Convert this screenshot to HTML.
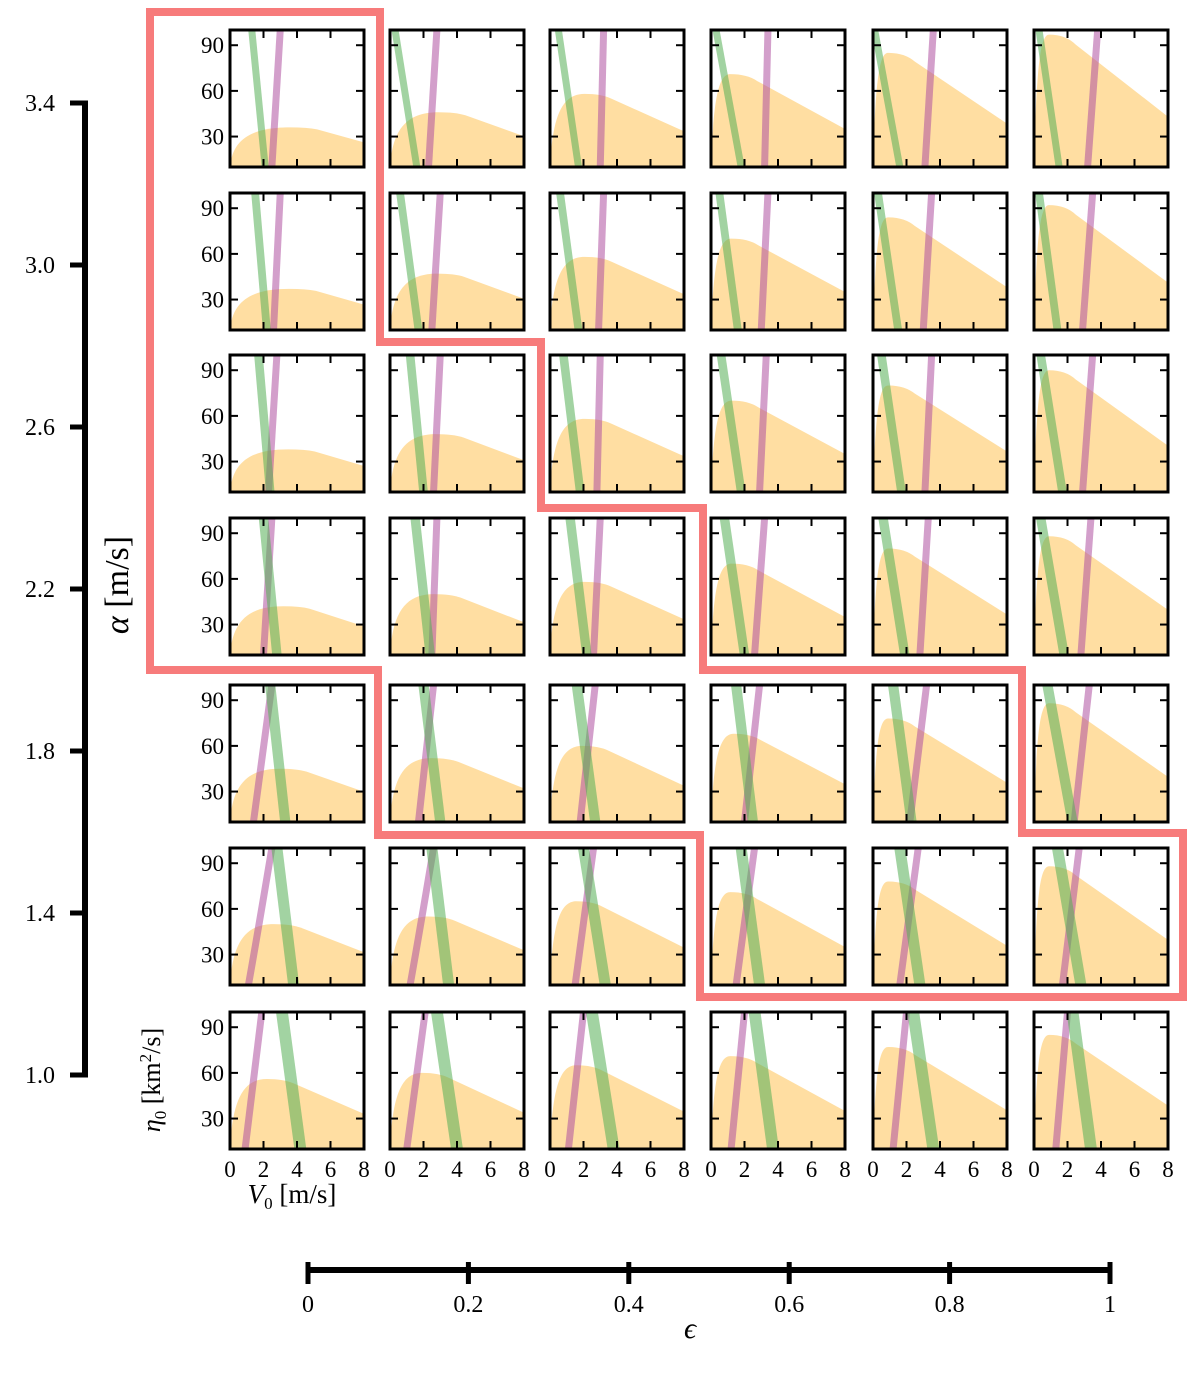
<!DOCTYPE html>
<html><head><meta charset="utf-8"><style>
html,body{margin:0;padding:0;background:#fff;}
svg text{font-family:"Liberation Serif",serif;fill:#000;}
</style></head><body>
<svg id="chart" width="1200" height="1375" viewBox="0 0 1200 1375" xmlns="http://www.w3.org/2000/svg">
<g id="panels"></g>
<path d="M150,12 L380,12 L380,342 L541,342 L541,508 L703,508 L703,670 L1022,670 L1022,833 L1183,833 L1183,997 L700,997 L700,835 L378,835 L378,670 L150,670 Z" fill="none" stroke="#f77b7b" stroke-width="8" stroke-linejoin="miter"/>
<g id="alpha-axis"></g>
<g id="eps-axis"></g>
<text x="0" y="0" font-size="34" transform="translate(128,585) rotate(-90)" text-anchor="middle"><tspan font-style="italic">α</tspan> [m/s]</text>
<text x="690" y="1338" font-size="30" font-style="italic" text-anchor="middle">ϵ</text>
<text font-size="26" transform="translate(160,1080) rotate(-90)" text-anchor="middle"><tspan font-style="italic">η</tspan><tspan font-size="17" dy="6">0</tspan><tspan dy="-6"> [km</tspan><tspan font-size="17" dy="-9">2</tspan><tspan dy="9">/s]</tspan></text>
<text x="292" y="1203" font-size="27" text-anchor="middle"><tspan font-style="italic">V</tspan><tspan font-size="17" dy="6">0</tspan><tspan dy="-6"> [m/s]</tspan></text>
</svg>
<script>
const alphaTicks=[1.0,1.4,1.8,2.2,2.6,3.0,3.4];
const epsTicks=[0,0.2,0.4,0.6,0.8,1];
const epsLabels=["0","0.2","0.4","0.6","0.8","1"];
const rowAlpha=[3.4,3.0,2.6,2.2,1.8,1.4,1.0];
const xTicks=[0,2,4,6,8];
const yTicks=[30,60,90];
// orange region peak height (eta) per row/col
const orangePeak=[
[36,46,58,71,85,97],
[37,47,58,70,84,92],
[38,48,58,70,80,90],
[42,50,58,70,80,88],
[45,52,60,68,78,88],
[50,55,65,71,78,88],
[56,60,65,71,77,85]];
// green band V0 at top (eta=100) and bottom (eta=10)
const greenTop=[
[1.3,0.3,0.5,0.3,0.1,0.3],
[1.5,0.6,0.6,0.5,0.3,0.3],
[1.7,1.2,0.8,0.6,0.5,0.4],
[2.0,1.5,1.2,0.8,0.6,0.4],
[2.4,2.0,1.6,1.5,1.2,0.8],
[2.8,2.5,2.0,1.8,1.6,1.4],
[3.1,2.8,2.5,2.6,2.4,2.3]];
const greenBot=[
[2.1,1.6,1.7,1.8,1.6,1.5],
[2.2,1.7,1.7,1.6,1.5,1.4],
[2.4,2.0,1.8,1.8,1.7,1.7],
[2.8,2.4,2.2,2.0,1.9,1.8],
[3.3,3.0,2.7,2.5,2.3,2.3],
[3.8,3.5,3.3,2.9,2.8,2.8],
[4.2,4.0,3.8,3.7,3.6,3.4]];
const purpleTop=[
[3.0,2.8,3.2,3.4,3.6,3.8],
[3.0,3.0,3.2,3.4,3.5,3.5],
[2.8,3.0,3.0,3.3,3.5,3.5],
[2.5,2.8,3.0,3.2,3.3,3.4],
[2.5,2.6,2.7,2.9,3.2,3.3],
[2.5,2.6,2.6,2.6,2.7,2.7],
[1.9,2.1,2.0,2.0,2.0,2.0]];
const purpleBot=[
[2.5,2.3,3.0,3.2,3.1,3.2],
[2.6,2.5,2.9,3.0,3.0,2.9],
[2.3,2.6,2.8,2.9,3.1,2.9],
[2.0,2.5,2.6,2.6,2.8,2.8],
[1.4,1.7,1.8,2.0,2.2,2.4],
[1.1,1.2,1.5,1.5,1.6,1.7],
[0.9,1.0,1.1,1.2,1.2,1.3]];

const NS="http://www.w3.org/2000/svg";
function mk(tag,attrs,parent){const e=document.createElementNS(NS,tag);for(const k in attrs)e.setAttribute(k,attrs[k]);parent.appendChild(e);return e;}
const colX=[230,390,550,711,873,1034];
const rowY=[30,193,355,518,685,848,1012];
const PW=134,PH=137;
const panels=document.getElementById('panels');
const defs=mk('defs',{},panels);
for(let r=0;r<7;r++){for(let c=0;c<6;c++){
  const x0=colX[c],y0=rowY[r];
  const X=v=>x0+v/8*PW;
  const Y=e=>y0+(100-e)/90*PH;
  const g=mk('g',{},panels);
  
  
  const cp=mk('clipPath',{id:'cp'+r+'_'+c},defs);
  mk('rect',{x:x0,y:y0,width:PW,height:PH},cp);
  const inner=mk('g',{'clip-path':'url(#cp'+r+'_'+c+')'},g);
  const pk=orangePeak[r][c];
  const xp=Math.max(0.9,3.6-(pk-36)*0.07);
  const ratio=Math.max(0.36,0.6-0.006*(pk-36));
  const right=10+(pk-10)*ratio;
  const x1=xp+1.0;
  const o=mk('path',{d:`M${X(0.0)},${Y(10)} C${X(0.15)},${Y(10+(pk-10)*0.75)} ${X(xp*0.4)},${Y(pk)} ${X(xp)},${Y(pk)} Q${X(x1)},${Y(pk)} ${X(x1+0.6)},${Y(pk-(pk-right)*0.12)} L${X(8.2)},${Y(right)} L${X(8.2)},${Y(5)} L${X(0)},${Y(5)} Z`,fill:'rgba(255,200,100,0.6)'},inner);
  
  
  const pmid=purpleBot[r][c]+(purpleTop[r][c]-purpleBot[r][c])*0.35;
  const p=mk('path',{d:`M${X(purpleTop[r][c])},${Y(100)} Q${X(pmid)},${Y(40)} ${X(purpleBot[r][c])},${Y(10)}`,fill:'none',stroke:'rgba(175,80,160,0.55)','stroke-width':7},inner);
  
  
  const gw=7+r*0.8;
  const gr=mk('line',{x1:X(greenTop[r][c]),y1:Y(100),x2:X(greenBot[r][c]),y2:Y(10),stroke:'rgba(85,175,85,0.55)','stroke-width':gw},inner);
  
  
  const fr=mk('rect',{x:x0,y:y0,width:PW,height:PH,fill:'none',stroke:'#000','stroke-width':3},g);
  
  
  xTicks.forEach(t=>{mk('line',{x1:X(t),y1:y0+PH,x2:X(t),y2:y0+PH-8,stroke:'#000','stroke-width':2},g);mk('line',{x1:X(t),y1:y0,x2:X(t),y2:y0+8,stroke:'#000','stroke-width':2},g);});
  yTicks.forEach(t=>{mk('line',{x1:x0,y1:Y(t),x2:x0+8,y2:Y(t),stroke:'#000','stroke-width':2},g);mk('line',{x1:x0+PW,y1:Y(t),x2:x0+PW-8,y2:Y(t),stroke:'#000','stroke-width':2},g);});
  if(c===0){yTicks.forEach(t=>{const tx=mk('text',{x:x0-6,y:Y(t)+8,'font-size':23,'text-anchor':'end'},g);tx.textContent=t;
    
    });}
  if(r===6){xTicks.forEach(t=>{const tx=mk('text',{x:X(t),y:y0+PH+28,'font-size':23,'text-anchor':'middle'},g);tx.textContent=t;
    
    });}
}}
// alpha axis
const A=document.getElementById('alpha-axis');
const AY=a=>1075-(a-1.0)/2.4*972;
mk('line',{x1:85,y1:AY(3.4),x2:85,y2:AY(1.0),stroke:'#000','stroke-width':6},A);
alphaTicks.forEach(a=>{mk('line',{x1:70,y1:AY(a),x2:88,y2:AY(a),stroke:'#000','stroke-width':5},A);
  const t=mk('text',{x:40,y:AY(a)+8,'font-size':24,'text-anchor':'middle'},A);t.textContent=a.toFixed(1);
  
  });
// epsilon axis
const E=document.getElementById('eps-axis');
const EX=e=>308+e*802;
mk('line',{x1:EX(0),y1:1270,x2:EX(1),y2:1270,stroke:'#000','stroke-width':6},E);
epsTicks.forEach((e,i)=>{mk('line',{x1:EX(e),y1:1262,x2:EX(e),y2:1284,stroke:'#000','stroke-width':5},E);
  const t=mk('text',{x:EX(e),y:1312,'font-size':24,'text-anchor':'middle'},E);t.textContent=epsLabels[i];
  
  });
</script>
</body></html>
